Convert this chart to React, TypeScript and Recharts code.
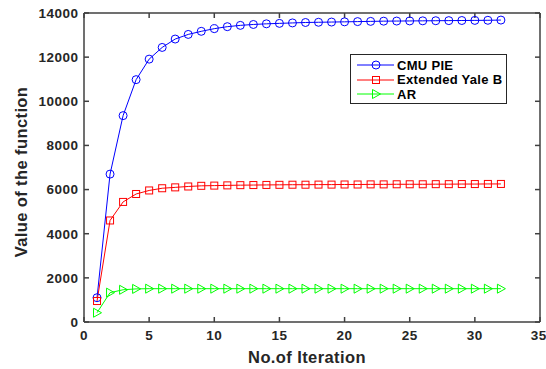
import React from 'react';
import { LineChart, Line, XAxis, YAxis, Legend } from 'recharts';

const iterations = [1, 2, 3, 4, 5, 6, 7, 8, 9, 10, 11, 12, 13, 14, 15, 16, 17, 18, 19, 20, 21, 22, 23, 24, 25, 26, 27, 28, 29, 30, 31, 32];
const cmuPie = [1100, 6700, 9350, 10980, 11910, 12440, 12820, 13030, 13170, 13290, 13380, 13440, 13480, 13510, 13530, 13550, 13570, 13580, 13590, 13600, 13610, 13620, 13630, 13635, 13640, 13645, 13650, 13655, 13660, 13665, 13670, 13680];
const yaleB = [950, 4600, 5440, 5800, 5960, 6060, 6100, 6140, 6170, 6180, 6190, 6200, 6205, 6210, 6215, 6220, 6220, 6225, 6225, 6230, 6230, 6235, 6235, 6240, 6240, 6240, 6245, 6245, 6250, 6250, 6255, 6255];
const ar = [420, 1330, 1460, 1500, 1510, 1510, 1510, 1510, 1510, 1510, 1510, 1510, 1510, 1510, 1510, 1510, 1510, 1510, 1510, 1510, 1510, 1510, 1510, 1510, 1510, 1510, 1510, 1510, 1510, 1510, 1510, 1510];
const xTicks = [0, 5, 10, 15, 20, 25, 30, 35];
const yTicks = [0, 2000, 4000, 6000, 8000, 10000, 12000, 14000];

const data = iterations.map((it, i) => ({ it, cmu: cmuPie[i], yale: yaleB[i], ar: ar[i] }));

const FONT = '"Liberation Sans", Arial, sans-serif';
const AXIS = '#404040';
const TEXT = '#262626';

const Circle = (props: any) => {
  const { cx, cy } = props;
  if (cx == null || cy == null) return null;
  return <circle cx={cx} cy={cy} r={4} fill="none" stroke="#0000ff" strokeWidth={1} />;
};

const Square = (props: any) => {
  const { cx, cy } = props;
  if (cx == null || cy == null) return null;
  return <rect x={cx - 3.5} y={cy - 3.5} width={7} height={7} fill="none" stroke="#ff0000" strokeWidth={1} />;
};

const Triangle = (props: any) => {
  const { cx, cy } = props;
  if (cx == null || cy == null) return null;
  return <polygon points={`${cx - 3.5},${cy - 4.5} ${cx + 4.5},${cy} ${cx - 3.5},${cy + 4.5}`} fill="none" stroke="#00ff00" strokeWidth={1} />;
};

const legendItems = [
  { name: 'CMU PIE', color: '#0000ff', Marker: Circle },
  { name: 'Extended Yale B', color: '#ff0000', Marker: Square },
  { name: 'AR', color: '#00ff00', Marker: Triangle },
];

const LegendBox = () => (
  <div style={{ border: '1px solid #262626', background: '#fff', width: 157, height: 50, paddingTop: 3, boxSizing: 'border-box' }}>
    {legendItems.map(({ name, color, Marker }) => (
      <div key={name} style={{ display: 'flex', alignItems: 'center', height: 14.5 }}>
        <svg width={46} height={14}>
          <line x1={6} y1={7} x2={43} y2={7} stroke={color} strokeWidth={1} />
          <Marker cx={25} cy={7} />
        </svg>
        <span style={{ fontFamily: FONT, fontWeight: 'bold', fontSize: 13, letterSpacing: 0.3, color: '#000' }}>{name}</span>
      </div>
    ))}
  </div>
);

const NoTick = () => <g />;

const tickStyle = { fill: TEXT, fontFamily: FONT, fontWeight: 'bold', fontSize: 13.5, letterSpacing: 0.5 };

const XLabel = (props: any) => {
  const { viewBox } = props;
  return (
    <text x={viewBox.x + viewBox.width / 2 - 5} y={363} textAnchor="middle" fill={TEXT} fontFamily={FONT} fontWeight="bold" fontSize={16.5} letterSpacing={0.4}>
      No.of Iteration
    </text>
  );
};

const YLabel = (props: any) => {
  const { viewBox } = props;
  const cy = viewBox.y + viewBox.height / 2 + 4.5;
  return (
    <text x={27} y={cy} transform={`rotate(-90, 27, ${cy})`} textAnchor="middle" fill={TEXT} fontFamily={FONT} fontWeight="bold" fontSize={16.5} letterSpacing={0.4}>
      Value of the function
    </text>
  );
};

const App: React.FC = () => (
  <div style={{ position: 'absolute', left: 0, top: 0, background: '#fff' }}>
    <LineChart width={546} height={369} data={data} margin={{ top: 12, right: 5, bottom: 0, left: 0 }}>
      <XAxis
        dataKey="it"
        type="number"
        domain={[0, 35]}
        ticks={xTicks}
        height={47}
        stroke={AXIS}
        strokeWidth={1.5}
        tickSize={-5}
        tickMargin={13}
        tick={tickStyle}
        label={<XLabel />}
      />
      <XAxis xAxisId="top" dataKey="it" orientation="top" type="number" domain={[0, 35]} ticks={xTicks} height={1} stroke={AXIS} strokeWidth={1.5} tickSize={-5} tick={NoTick} />
      <YAxis
        type="number"
        domain={[0, 14000]}
        ticks={yTicks}
        width={84}
        stroke={AXIS}
        strokeWidth={1.5}
        tickSize={-5}
        tickMargin={10.5}
        tick={tickStyle}
        label={<YLabel />}
      />
      <YAxis yAxisId="right" orientation="right" type="number" domain={[0, 14000]} ticks={yTicks} width={1} stroke={AXIS} strokeWidth={1.5} tickSize={-5} tick={NoTick} />
      <Legend layout="vertical" verticalAlign="middle" align="center" wrapperStyle={{ left: 350, top: 54, width: 'auto' }} content={() => <LegendBox />} />
      <Line dataKey="cmu" name="CMU PIE" stroke="#0000ff" strokeWidth={1} dot={<Circle />} isAnimationActive={false} />
      <Line dataKey="yale" name="Extended Yale B" stroke="#ff0000" strokeWidth={1} dot={<Square />} isAnimationActive={false} />
      <Line dataKey="ar" name="AR" stroke="#00ff00" strokeWidth={1} dot={<Triangle />} isAnimationActive={false} />
      <Line xAxisId="top" yAxisId="right" dataKey="ar" stroke="none" dot={false} activeDot={false} legendType="none" isAnimationActive={false} />
    </LineChart>
  </div>
);

export default App;
